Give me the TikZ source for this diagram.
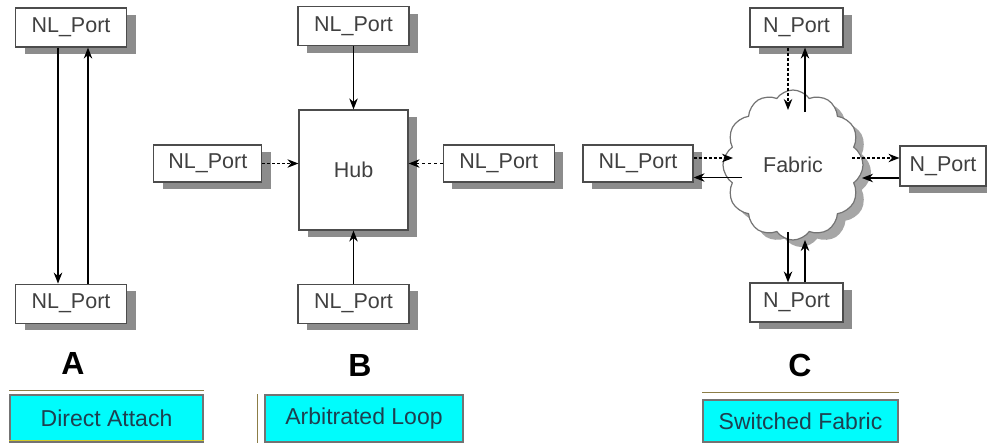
\documentclass[tikz,border=0pt]{standalone}
\usepackage{fontspec}
\setmainfont{Liberation Sans}
\usetikzlibrary{arrows.meta, positioning, shapes.symbols, shadows}

\definecolor{capfill}{RGB}{0,252,252}
\definecolor{captext}{RGB}{30,64,80}
\definecolor{rulecol}{RGB}{140,125,70}

\begin{document}
\begin{tikzpicture}[
            x = 1pt, y = -1pt,
            > = {Stealth[length=11pt, width=8.5pt]},
            line width = 1.2pt,
            node distance = 36pt
        ]

        \tikzstyle{port}=[
            draw = black!70,
            fill = white,
            text = black!75,
            font = \fontsize{21.5}{24}\selectfont,
            minimum width = 111pt,
            minimum height = 39pt,
            inner sep = 0pt,
            drop shadow = {shadow xshift=9pt, shadow yshift=-7pt, fill=black!45, opacity=1}
        ]
        \tikzstyle{caption}=[
            fill = capfill,
            draw = black!55,
            text = captext,
            font = \fontsize{23}{26}\selectfont,
            minimum height = 47pt,
            inner sep = 0pt
        ]
        \tikzstyle{letter}=[font = \fontsize{32}{36}\selectfont\bfseries]
        \tikzstyle{rule}=[rulecol, line width = 1.2pt]

        \fill[white] (0,0) rectangle (987,442);
        \useasboundingbox (0,0) rectangle (987,442);

        % A: direct attach
        \node[port] (aTop) at (71,27.5) {NL\_Port};
        \node[port] (aBot) [below=236pt of aTop] {NL\_Port};
        \draw[->, line width=1.9pt] ([xshift=-13pt]aTop.south) -- ([xshift=-13pt]aBot.north);
        \draw[->] ([xshift=17pt]aBot.north) -- ([xshift=17pt]aTop.south);

        % B: hub
        \node[port, minimum width=109pt, minimum height=120pt] (hub) at (353.5,170) {Hub};
        \node[port] (bTop) [above=63pt of hub] {NL\_Port};
        \node[port] (bBot) [below=53pt of hub] {NL\_Port};
        \node[port, minimum width=108pt, minimum height=37pt] (bLeft) [left=36pt of hub, yshift=6.5pt] {NL\_Port};
        \node[port, minimum height=37pt] (bRight) [right=34pt of hub, yshift=6.5pt] {NL\_Port};

        \draw[->] (bTop) -- (hub);
        \draw[->] (bBot) -- (hub);
        \draw[->, densely dashed] (bLeft.east) -- (bLeft.east -| hub.west);
        \draw[->, dashed] (bRight.west) -- (bRight.west -| hub.east);

        % C: fabric
        \node[cloud, cloud puffs=12, cloud puff arc=110, cloud ignores aspect,
              draw=black!55, fill=white, text=black!75,
              font=\fontsize{21.5}{24}\selectfont,
              minimum width=140pt, minimum height=150pt,
              drop shadow={shadow xshift=8pt, shadow yshift=-7pt, fill=black!35, opacity=1}]
              (fabric) at (793,165) {Fabric};
        \node[port, minimum width=93pt] (cTop) at (796.5,27.5) {N\_Port};
        \node[port, minimum width=93pt] (cBot) at (796.5,302.5) {N\_Port};
        \node[port, minimum width=110pt, minimum height=37pt] (cLeft) at (638,163.5) {NL\_Port};
        \node[port, minimum width=86pt, minimum height=40pt] (cRight) at (943,166) {N\_Port};

        \coordinate (fin1) at (788,110);
        \coordinate (fout1) at (805,112);
        \coordinate (fin2) at (733,158);
        \coordinate (fout2) at (742,177.5);
        \coordinate (fout3) at (852,158);
        \coordinate (fin3) at (862,178);
        \coordinate (fout4) at (788,232);
        \coordinate (fin4) at (805,240);

        \draw[->, densely dashed] ([xshift=-8.5pt]cTop.south) -- (fin1);
        \draw[->] (fout1) -- ([xshift=8.5pt]cTop.south);
        \draw[->, densely dashed] ([yshift=5.5pt]cLeft.east) -- (fin2);
        \draw[->] (fout2) -- ([yshift=-14pt]cLeft.east);
        \draw[->, densely dashed] (fout3) -- ([yshift=8pt]cRight.west);
        \draw[->] ([yshift=-12pt]cRight.west) -- (fin3);
        \draw[->] (fout4) -- ([xshift=-8.5pt]cBot.north);
        \draw[->] ([xshift=8.5pt]cBot.north) -- (fin4);

        % letters and captions
        \node[letter] (labA) at (73,363) {A};
        \node[letter] (labB) at (360,365) {B};
        \node[letter] (labC) at (800,365) {C};

        \node[caption, minimum width=193pt] (capA) at (106.5,418.5) {Direct Attach};
        \node[caption, minimum width=198pt] (capB) at (364,418.5) {Arbitrated Loop};
        \node[caption, minimum width=195pt, minimum height=42pt] (capC) at (800.5,421) {Switched Fabric};

        \draw[rule] ([yshift=4pt]capA.north west) -- ([yshift=4pt]capA.north east);
        \draw[rule, yellow!80!black] ([yshift=2pt]capA.south west) -- ([yshift=2pt]capA.south east);
        \draw[rule] ([xshift=-7pt]capB.north west) -- ([xshift=-7pt]capB.south west);
        \draw[rule] ([yshift=7pt]capC.north west) -- ([yshift=7pt]capC.north east);

    \end{tikzpicture}
\end{document}
